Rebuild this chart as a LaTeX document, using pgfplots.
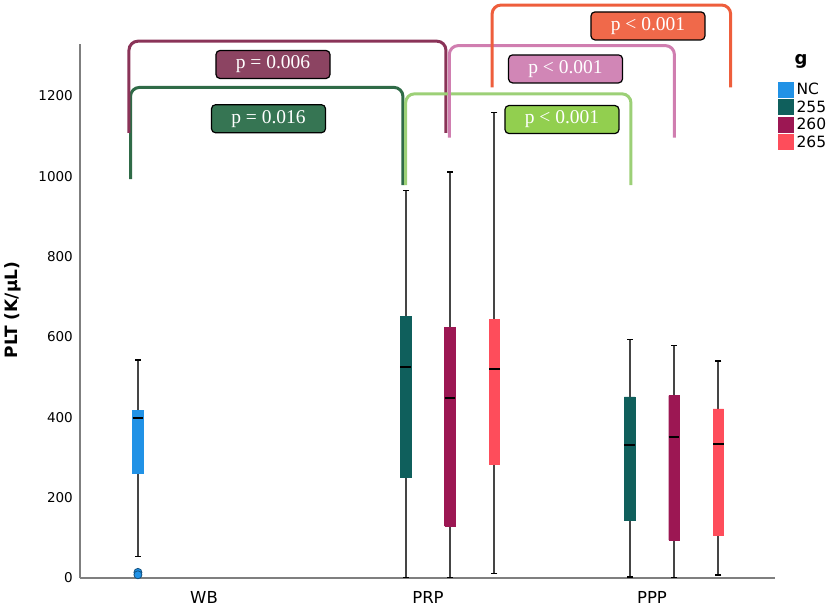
\documentclass[border=0pt]{standalone}
\usepackage{pgfplots}
\pgfplotsset{compat=1.18}
\usepackage{fontspec}
\setmainfont{DejaVu Sans}
\newfontfamily\serifp{Liberation Serif}
\definecolor{cNC}{HTML}{2192E6}
\definecolor{c255}{HTML}{0F5F5C}
\definecolor{c260}{HTML}{9C1753}
\definecolor{c265}{HTML}{FE4D5B}
\definecolor{whisk}{HTML}{454545}
\definecolor{axgray}{HTML}{7F7F7F}
\definecolor{bDG}{HTML}{2F6B47}
\definecolor{bMR}{HTML}{8A3358}
\definecolor{bLG}{HTML}{9CD077}
\definecolor{bPK}{HTML}{D07EB0}
\definecolor{bOR}{HTML}{EE5E3C}
\definecolor{lDG}{HTML}{367553}
\definecolor{lMR}{HTML}{8C4462}
\definecolor{lLG}{HTML}{92CF4F}
\definecolor{lPK}{HTML}{D186B6}
\definecolor{lOR}{HTML}{F0694A}
\tikzset{
  plabel/.style={draw=black, line width=1.2pt, rounded corners=4pt, minimum width=114pt, minimum height=28pt, inner sep=0pt, text=white, font=\serifp\fontsize{19.5}{19.5}\selectfont},
  pbracket/.style={line width=3pt, rounded corners=9pt}
}
\pgfplotsset{
  whiskerline/.style={forget plot, draw=whisk, line width=2pt, mark=-, mark size=3pt, mark options={draw=black, line width=1.5pt}},
  boxfill/.style={forget plot, fill=#1, draw=#1, line width=0.4pt, mark=none},
  medline/.style={forget plot, draw=black, line width=2pt, mark=none}
}
\begin{document}
\begin{tikzpicture}
\begin{axis}[
  at={(0pt,0pt)}, anchor=south west,
  scale only axis, width=695pt, height=534pt,
  xmin=-0.5536, xmax=2.5491, ymin=0, ymax=1329,
  axis x line=bottom, axis y line=left,
  axis line style={-, draw=axgray, line width=1.2pt},
  major tick length=0pt,
  xtick={0,1,2}, xticklabels={WB,PRP,PPP},
  ytick={0,200,400,600,800,1000,1200},
  /pgf/number format/assume math mode=true,
  /pgf/number format/1000 sep={},
  xticklabel style={font=\fontsize{16.5}{16.5}\selectfont, anchor=base, yshift=-25pt, inner sep=0pt},
  yticklabel style={font=\fontsize{13.5}{13.5}\selectfont, anchor=east, inner sep=0pt, xshift=-7pt},
  ylabel={PLT (K/µL)},
  every axis y label/.style={at={(axis description cs:-0.0964,0.502)}, rotate=90, anchor=center, font=\bfseries\fontsize{17}{17}\selectfont},
  clip=false,
  legend style={at={(axis description cs:1.0,0.9345)}, anchor=north west, draw=none, fill=none, font=\fontsize{15.5}{15.5}\selectfont, row sep=0.5pt, nodes={inner xsep=3pt}},
  legend cell align=left,
]
\addlegendimage{legend image code/.code={\fill[cNC] (0pt,-7.5pt) rectangle (15pt,7.5pt);}}
\addlegendentry{NC}
\addlegendimage{legend image code/.code={\fill[c255] (0pt,-7.5pt) rectangle (15pt,7.5pt);}}
\addlegendentry{255}
\addlegendimage{legend image code/.code={\fill[c260] (0pt,-7.5pt) rectangle (15pt,7.5pt);}}
\addlegendentry{260}
\addlegendimage{legend image code/.code={\fill[c265] (0pt,-7.5pt) rectangle (15pt,7.5pt);}}
\addlegendentry{265}

% ---- WB: NC (whiskers 54-543, Q1 260, median 399, Q3 418) ----
\addplot[whiskerline] coordinates {(-0.295,54) (-0.295,543)};
\addplot[boxfill=cNC] coordinates {(-0.3185,260) (-0.2715,260) (-0.2715,418) (-0.3185,418) (-0.3185,260)};
\addplot[medline] coordinates {(-0.3185,399) (-0.2715,399)};
\addplot[forget plot, only marks, mark=*, mark size=4pt, mark options={fill=cNC, draw=cNC!55!black, line width=0.8pt}] coordinates {(-0.295,14) (-0.295,8)};

% ---- PRP: 255 ----
\addplot[whiskerline] coordinates {(0.900,1) (0.900,964)};
\addplot[boxfill=c255] coordinates {(0.8765,251) (0.9235,251) (0.9235,651) (0.8765,651) (0.8765,251)};
\addplot[medline] coordinates {(0.8765,524) (0.9235,524)};
% ---- PRP: 260 ----
\addplot[whiskerline] coordinates {(1.098,1) (1.098,1010)};
\addplot[boxfill=c260] coordinates {(1.0745,129) (1.1215,129) (1.1215,624) (1.0745,624) (1.0745,129)};
\addplot[medline] coordinates {(1.0745,449) (1.1215,449)};
% ---- PRP: 265 ----
\addplot[whiskerline] coordinates {(1.296,11) (1.296,1158)};
\addplot[boxfill=c265] coordinates {(1.2725,282) (1.3195,282) (1.3195,643) (1.2725,643) (1.2725,282)};
\addplot[medline] coordinates {(1.2725,521) (1.3195,521)};

% ---- PPP: 255 ----
\addplot[whiskerline] coordinates {(1.900,3) (1.900,593)};
\addplot[boxfill=c255] coordinates {(1.8765,143) (1.9235,143) (1.9235,451) (1.8765,451) (1.8765,143)};
\addplot[medline] coordinates {(1.8765,331) (1.9235,331)};
% ---- PPP: 260 ----
\addplot[whiskerline] coordinates {(2.098,1) (2.098,579)};
\addplot[boxfill=c260] coordinates {(2.0745,95) (2.1215,95) (2.1215,454) (2.0745,454) (2.0745,95)};
\addplot[medline] coordinates {(2.0745,352) (2.1215,352)};
% ---- PPP: 265 ----
\addplot[whiskerline] coordinates {(2.296,7) (2.296,540)};
\addplot[boxfill=c265] coordinates {(2.2725,106) (2.3195,106) (2.3195,421) (2.2725,421) (2.2725,106)};
\addplot[medline] coordinates {(2.2725,334) (2.3195,334)};

% brackets
\draw[pbracket, bDG] (axis cs:-0.328,993) -- (axis cs:-0.328,1221) -- (axis cs:0.888,1221) -- (axis cs:0.888,978);
\draw[pbracket, bMR] (axis cs:-0.335,1108) -- (axis cs:-0.335,1336) -- (axis cs:1.080,1336) -- (axis cs:1.080,1108);
\draw[pbracket, bLG] (axis cs:0.900,978) -- (axis cs:0.900,1205) -- (axis cs:1.906,1205) -- (axis cs:1.906,978);
\draw[pbracket, bPK] (axis cs:1.095,1096) -- (axis cs:1.095,1325) -- (axis cs:2.100,1325) -- (axis cs:2.100,1096);
\draw[pbracket, bOR] (axis cs:1.286,1221) -- (axis cs:1.286,1426) -- (axis cs:2.351,1426) -- (axis cs:2.351,1221);

\node[plabel, fill=lMR] at (axis cs:0.308,1278) {p = 0.006};
\node[plabel, fill=lDG] at (axis cs:0.288,1143) {p = 0.016};
\node[plabel, fill=lOR] at (axis cs:1.982,1374) {p < 0.001};
\node[plabel, fill=lPK] at (axis cs:1.614,1267) {p < 0.001};
\node[plabel, fill=lLG] at (axis cs:1.598,1141) {p < 0.001};

\node[font=\bfseries\fontsize{18}{18}\selectfont, anchor=base, inner sep=0pt] at (axis description cs:1.0374,0.9607) {g};
\end{axis}
\pgfresetboundingbox
\path[use as bounding box] (-80pt,-29pt) rectangle (749pt,578pt);
\end{tikzpicture}
\end{document}
